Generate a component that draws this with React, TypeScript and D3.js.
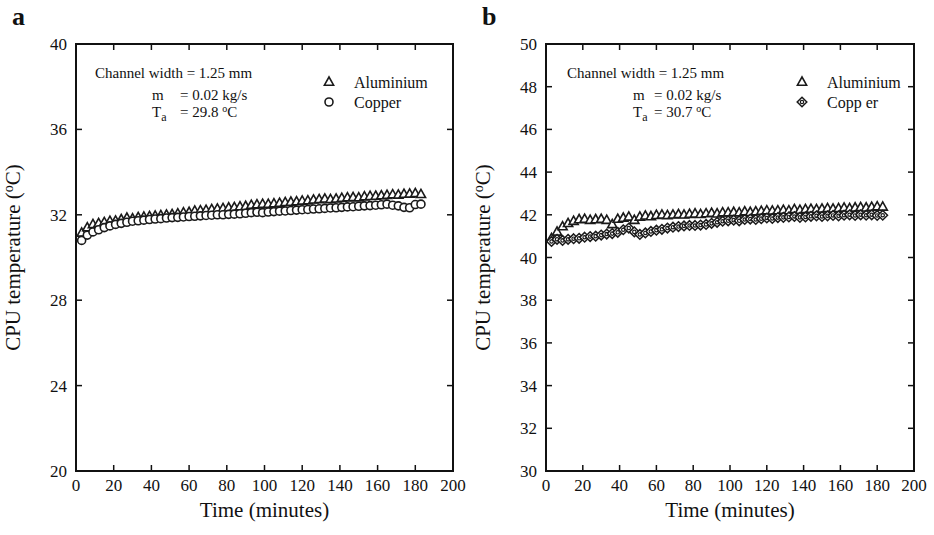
import React from "react";
import * as d3 from "d3";

// sampling times (minutes)
const times = [3, 6, 9, 12, 15, 18, 21, 24, 27, 30, 33, 36, 39, 42, 45, 48, 51, 54, 57, 60,
  63, 66, 69, 72, 75, 78, 81, 84, 87, 90, 93, 96, 99, 102, 105, 108, 111, 114, 117, 120,
  123, 126, 129, 132, 135, 138, 141, 144, 147, 150, 153, 156, 159, 162, 165, 168, 171, 174, 177, 180, 183];

// panel a
const alA = [31.15, 31.4, 31.55, 31.6, 31.65, 31.7, 31.72, 31.78, 31.85, 31.82, 31.88, 31.9, 31.93, 31.95, 31.97, 32.0, 32.02, 32.05, 32.1, 32.12,
  32.18, 32.2, 32.22, 32.25, 32.28, 32.3, 32.33, 32.35, 32.38, 32.4, 32.45, 32.48, 32.5, 32.5, 32.52, 32.55, 32.58, 32.6, 32.62, 32.65,
  32.66, 32.7, 32.72, 32.75, 32.72, 32.75, 32.78, 32.8, 32.82, 32.8, 32.85, 32.87, 32.88, 32.9, 32.92, 32.95, 32.93, 32.97, 32.98, 33.0, 32.96];
const cuA = [30.8, 31.05, 31.2, 31.3, 31.4, 31.48, 31.55, 31.6, 31.65, 31.7, 31.72, 31.75, 31.78, 31.8, 31.82, 31.85, 31.87, 31.88, 31.9, 31.92,
  31.93, 31.95, 31.97, 31.98, 32.0, 32.0, 32.02, 32.03, 32.05, 32.07, 32.1, 32.12, 32.1, 32.13, 32.15, 32.17, 32.18, 32.2, 32.22, 32.24,
  32.25, 32.27, 32.28, 32.3, 32.32, 32.33, 32.35, 32.37, 32.38, 32.4, 32.42, 32.43, 32.45, 32.47, 32.5, 32.45, 32.42, 32.35, 32.33, 32.48, 32.5];

// panel b
const alB = [40.9, 41.2, 41.45, 41.6, 41.7, 41.78, 41.8, 41.75, 41.78, 41.8, 41.75, 41.55, 41.8, 41.85, 41.9, 41.75, 41.9, 41.95, 41.92, 41.98,
  42.0, 41.97, 42.0, 42.02, 42.0, 42.03, 42.05, 42.02, 42.06, 42.08, 42.05, 42.1, 42.1, 42.12, 42.1, 42.15, 42.12, 42.15, 42.17, 42.2,
  42.18, 42.2, 42.22, 42.2, 42.25, 42.22, 42.25, 42.27, 42.25, 42.28, 42.3, 42.28, 42.3, 42.32, 42.3, 42.33, 42.35, 42.33, 42.36, 42.38, 42.37];
const cuB = [40.75, 40.85, 40.8, 40.85, 40.88, 40.9, 40.95, 40.98, 41.0, 41.05, 41.1, 41.12, 41.18, 41.3, 41.38, 41.2, 41.08, 41.15, 41.22, 41.28,
  41.32, 41.38, 41.42, 41.45, 41.48, 41.5, 41.5, 41.52, 41.55, 41.6, 41.65, 41.7, 41.72, 41.75, 41.72, 41.78, 41.8, 41.78, 41.82, 41.85,
  41.83, 41.87, 41.88, 41.9, 41.92, 41.88, 41.9, 41.93, 41.95, 41.92, 41.95, 41.97, 41.95, 41.98, 42.0, 41.97, 42.0, 41.98, 42.0, 41.97, 41.98];

const xTicks = [0, 20, 40, 60, 80, 100, 120, 140, 160, 180, 200];
const yTicksA = [20, 24, 28, 32, 36, 40];
const yTicksB = [30, 32, 34, 36, 38, 40, 42, 44, 46, 48, 50];

const FONT = "'Liberation Serif', 'Times New Roman', serif";
const TOP = 44;
const BOTTOM = 471;

type Marker = "triangle" | "circle" | "diamond";

function Mark({ kind, x, y }: { kind: Marker; x: number; y: number }) {
  if (kind === "triangle") {
    return <path d={`M${x},${y - 5}L${x + 4.6},${y + 3.2}L${x - 4.6},${y + 3.2}Z`} fill="white" stroke="#1a1a1a" strokeWidth={1.6} />;
  }
  if (kind === "circle") {
    return <circle cx={x} cy={y} r={4} fill="white" stroke="#1a1a1a" strokeWidth={1.6} />;
  }
  return (
    <g>
      <path d={`M${x},${y - 4.8}L${x + 4.8},${y}L${x},${y + 4.8}L${x - 4.8},${y}Z`} fill="white" stroke="#1a1a1a" strokeWidth={1.5} />
      <circle cx={x} cy={y} r={1.7} fill="white" stroke="#1a1a1a" strokeWidth={1.2} />
    </g>
  );
}

function Panel({ left, right, yDomain, yTicks, letter, al, cu, cuMarker, ta, cuLabel, annot }: any) {
  const x = d3.scaleLinear().domain([0, 200]).range([left, right]);
  const y = d3.scaleLinear().domain(yDomain).range([BOTTOM, TOP]);
  const tick = 6;
  const midY = (TOP + BOTTOM) / 2;
  return (
    <g fontFamily={FONT} fill="#111">
      <text x={left - 64} y={25} fontSize={26} fontWeight="bold">{letter}</text>
      {xTicks.map((t) => (
        <g key={"x" + t}>
          <line x1={x(t)} x2={x(t)} y1={BOTTOM} y2={BOTTOM - tick} stroke="#111" strokeWidth={1.5} />
          <line x1={x(t)} x2={x(t)} y1={TOP} y2={TOP + tick} stroke="#111" strokeWidth={1.5} />
          <text x={x(t)} y={BOTTOM + 20} fontSize={17} textAnchor="middle">{t}</text>
        </g>
      ))}
      {yTicks.map((t: number) => (
        <g key={"y" + t}>
          <line x1={left} x2={left + tick} y1={y(t)} y2={y(t)} stroke="#111" strokeWidth={1.5} />
          <line x1={right} x2={right - tick} y1={y(t)} y2={y(t)} stroke="#111" strokeWidth={1.5} />
          <text x={left - 9} y={y(t) + 6} fontSize={17} textAnchor="end">{t}</text>
        </g>
      ))}
      <rect x={left} y={TOP} width={right - left} height={BOTTOM - TOP} fill="none" stroke="#111" strokeWidth={2} />
      <text x={(left + right) / 2} y={BOTTOM + 46} fontSize={21} textAnchor="middle">Time (minutes)</text>
      <text transform={`translate(${left - 56},${midY}) rotate(-90)`} fontSize={21} textAnchor="middle">
        CPU temperature (<tspan fontSize={14} dy={-7}>o</tspan><tspan dy={7}>C)</tspan>
      </text>
      {times.map((t, i) => <Mark key={"a" + i} kind="triangle" x={x(t)} y={y(al[i])} />)}
      {times.map((t, i) => <Mark key={"c" + i} kind={cuMarker} x={x(t)} y={y(cu[i])} />)}
      <g fontSize={15}>
        <text x={annot.x0} y={78}>Channel width = 1.25 mm</text>
        <text x={annot.x1} y={100}>m</text>
        <text x={annot.x2} y={100}>= 0.02 kg/s</text>
        <text x={annot.x1} y={117}>T<tspan fontSize={12} dy={4}>a</tspan></text>
        <text x={annot.x2} y={117}>= {ta} <tspan fontSize={10} dy={-5}>o</tspan><tspan dy={5}>C</tspan></text>
      </g>
      <Mark kind="triangle" x={annot.lx} y={82} />
      <text x={annot.lx + 25} y={88} fontSize={16}>Aluminium</text>
      <Mark kind={cuMarker} x={annot.lx} y={102} />
      <text x={annot.lx + 25} y={108} fontSize={16}>{cuLabel}</text>
    </g>
  );
}

export default function App() {
  return (
    <svg width={934} height={535} style={{ position: "absolute", left: 0, top: 0, background: "white" }}>
      <Panel left={76} right={453} yDomain={[20, 40]} yTicks={yTicksA} letter="a" al={alA} cu={cuA} cuMarker="circle"
        ta="29.8" cuLabel="Copper" annot={{ x0: 95, x1: 152, x2: 180, lx: 329 }} />
      <Panel left={546} right={914} yDomain={[30, 50]} yTicks={yTicksB} letter="b" al={alB} cu={cuB} cuMarker="diamond"
        ta="30.7" cuLabel="Copp er" annot={{ x0: 567, x1: 633, x2: 654, lx: 802 }} />
    </svg>
  );
}
